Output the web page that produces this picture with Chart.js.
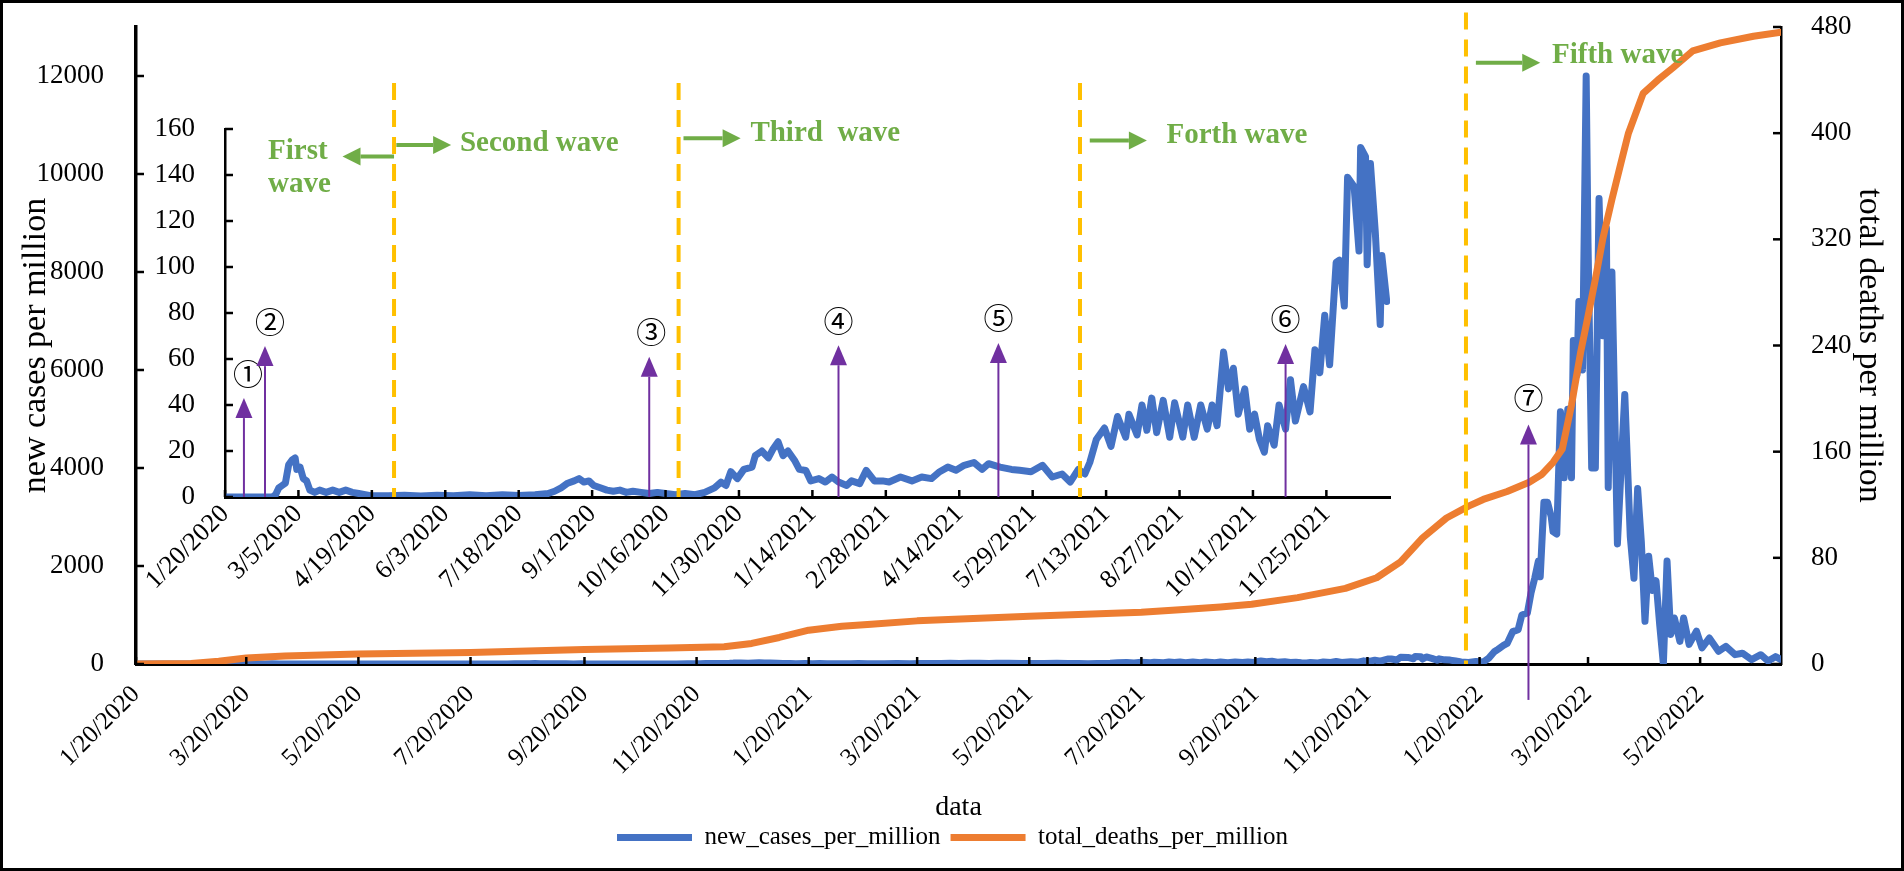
<!DOCTYPE html>
<html>
<head>
<meta charset="utf-8">
<title>new cases and total deaths per million</title>
<script src="https://cdn.jsdelivr.net/npm/chart.js@4.4.0/dist/chart.umd.min.js"></script>
<style>
  html, body { margin: 0; padding: 0; background: #fff; }
  #wrap { position: relative; width: 1904px; height: 871px; }
  #mainBox { position: absolute; left: 0; top: 0; width: 1904px; height: 871px; }
  #insetBox { position: absolute; left: 100px; top: 40px; width: 1320px; height: 560px; }
</style>
</head>
<body>
<div id="wrap">
  <div id="mainBox"><canvas id="mainChart"></canvas></div>
  <div id="insetBox"><canvas id="insetChart"></canvas></div>
</div>
<script>
// days are counted from 1/20/2020
const START = Date.UTC(2020, 0, 20);
function dayOf(label) {
    const [m, d, y] = label.split('/').map(Number);
    return Math.round((Date.UTC(y, m - 1, d) - START) / 86400000);
}

const mainTickLabels = [
    '1/20/2020', '3/20/2020', '5/20/2020', '7/20/2020', '9/20/2020', '11/20/2020',
    '1/20/2021', '3/20/2021', '5/20/2021', '7/20/2021', '9/20/2021', '11/20/2021',
    '1/20/2022', '3/20/2022', '5/20/2022',
];
const insetTickLabels = [
    '1/20/2020', '3/5/2020', '4/19/2020', '6/3/2020', '7/18/2020', '9/1/2020',
    '10/16/2020', '11/30/2020', '1/14/2021', '2/28/2021', '4/14/2021', '5/29/2021',
    '7/13/2021', '8/27/2021', '10/11/2021', '11/25/2021',
];
const casesTicks = [0, 2000, 4000, 6000, 8000, 10000, 12000];
const deathsTicks = [0, 80, 160, 240, 320, 400, 480];
const insetTicks = [0, 20, 40, 60, 80, 100, 120, 140, 160];

// new cases per million, 1/2020 - 12/2021 (shown in the inset and in the main chart)
const earlyDays = [
    0, 29, 31, 33, 35, 37, 39, 41, 43, 44, 46, 48, 50, 52, 55, 58, 62, 66, 70, 74, 78, 82, 86, 90,
    100, 110, 120, 130, 140, 150, 160, 170, 180, 190, 198, 202, 206, 210, 214, 217, 220, 223, 226,
    230, 234, 238, 242, 246, 250, 255, 260, 265, 270, 276, 282, 288, 294, 300, 304, 307, 310, 314,
    318, 323, 325, 329, 333, 336, 339, 342, 345, 349, 352, 356, 359, 364, 368, 372, 376, 381, 384,
    389, 393, 398, 403, 407, 414, 421, 427, 433, 438, 443, 448, 453, 459, 464, 468, 475, 482, 487,
    494, 501, 507, 513, 518, 523, 527, 530, 534, 539, 543, 547, 552, 554, 559, 562, 565, 568, 571,
    575, 579, 582, 587, 590, 594, 598, 602, 605, 608, 612, 615, 618, 621, 625, 628, 631, 634, 637,
    639, 643, 646, 650, 653, 656, 661, 665, 668, 671, 674, 677, 681, 683, 686, 688, 692, 695, 696,
    699, 700, 702, 705, 708, 709, 712,
];
const earlyCases = [
    0, 0, 1, 4, 5, 6, 14, 16, 17, 12, 13, 8, 7, 3, 2, 3, 2, 3, 2, 3, 2, 1.5, 1, 0.5,
    0.5, 0.8, 0.4, 0.8, 0.5, 1, 0.6, 1, 0.7, 1, 1.5, 2.5, 4, 6, 7, 8, 6.5, 7, 5,
    4, 3, 2.5, 3, 2, 2.5, 2, 1.5, 2, 1.5, 1, 1.5, 1, 2, 4, 6.5, 5, 11, 8,
    12, 13, 18, 20, 17, 21, 24, 18, 20, 16, 12, 11.5, 7, 8, 6.5, 8.7, 6.5, 5, 7,
    5.8, 11.6, 7, 7, 6.5, 8.7, 7, 8.7, 8, 11, 13, 11.6, 13.8, 15, 12, 14.5, 13, 12, 11.6,
    11, 13.8, 8.7, 10, 6.5, 12, 10, 15, 25, 30, 22, 35, 26, 36, 27, 40, 29, 43, 28,
    42, 26, 41, 26, 40, 26, 40, 29.5, 40, 31, 63, 47, 56, 36, 47, 29.5, 36, 25, 19.5,
    31, 22.5, 40, 29.5, 51, 33, 48, 37, 64, 54, 79, 57.5, 102, 103, 83, 139, 135, 107, 152,
    148, 101, 145, 115, 75, 105, 85,
];

// new cases per million, fifth wave (2022)
const fifthDays = [
    715, 718, 721, 725, 729, 733, 736, 739, 741, 744, 746, 749, 752, 754, 757, 759, 761, 763, 764,
    766, 768, 770, 771, 773, 775, 777, 779, 781, 782, 784, 785, 787, 789, 790, 792, 794, 796, 798,
    800, 801, 803, 806, 808, 810, 813, 815, 817, 819, 821, 823, 825, 827, 829, 831, 833, 835, 837,
    840, 842, 845, 849, 852, 856, 861, 865, 870, 874, 879, 884, 888, 892, 895,
];
const fifthCases = [
    80, 60, 40, 30, 50, 40, 120, 250, 300, 380, 420, 660, 700, 1000, 1040, 1450, 1750, 2100, 1780,
    3300, 3300, 3000, 2700, 2650, 5150, 3800, 5200, 3800, 6600, 5900, 7400, 6000, 12000, 8600, 4000, 4000, 9500, 6700,
    8900, 3600, 8000, 2450, 4000, 5500, 2600, 1750, 3580, 2500, 870, 2200, 1500, 1700, 800, 0, 2100, 600, 940,
    460, 940, 400, 670, 330, 530, 260, 360, 190, 220, 90, 190, 60, 150, 90,
];

// total deaths per million
const deathDays = [
    0, 30, 45, 60, 81, 121, 182, 244, 290, 320, 335, 350, 366, 384, 400, 425, 486, 547, 570, 590,
    607, 632, 658, 675, 688, 700, 713, 725, 733, 746, 758, 765, 771, 776, 781, 786, 790, 794, 798,
    803, 808, 812, 820, 828, 836, 847, 862, 880, 895,
];
const deathValues = [
    0, 0.3, 2, 4.5, 6, 7.5, 8.6, 11, 12, 13, 15.5, 20, 25.5, 28.5, 30, 32.5, 36, 39, 41, 43,
    45, 50, 57, 65, 77, 95, 110, 119, 124, 130, 137, 143, 152, 162, 195, 235, 262, 290, 320,
    350, 378, 400, 430, 440, 449, 462, 468, 473, 476,
];

const BLUE = '#4472C4';
const ORANGE = '#ED7D31';
const YELLOW = '#FFC000';
const GREEN = '#70AD47';
const PURPLE = '#7030A0';
const SERIF = '"Liberation Serif", "Times New Roman", serif';
const CIRCLED = '"Noto Sans CJK JP", "Noto Sans CJK SC", "DejaVu Sans", sans-serif';

Chart.defaults.font.family = SERIF;
Chart.defaults.font.size = 25;
Chart.defaults.color = '#000';

const toPoints = (xs, ys) => xs.map((x, i) => ({ x: x, y: ys[i] }));
const casePoints = toPoints(earlyDays.concat(fifthDays), earlyCases.concat(fifthCases));
const insetPoints = toPoints(earlyDays, earlyCases);
const deathPoints = toPoints(deathDays, deathValues);

function drawArrow(ctx, x1, y1, x2, y2, color, width, headLen, headW) {
    const a = Math.atan2(y2 - y1, x2 - x1);
    const bx = x2 - headLen * Math.cos(a);
    const by = y2 - headLen * Math.sin(a);
    ctx.strokeStyle = color;
    ctx.lineWidth = width;
    ctx.beginPath();
    ctx.moveTo(x1, y1);
    ctx.lineTo(bx, by);
    ctx.stroke();
    ctx.fillStyle = color;
    ctx.beginPath();
    ctx.moveTo(x2, y2);
    ctx.lineTo(bx + headW / 2 * Math.sin(a), by - headW / 2 * Math.cos(a));
    ctx.lineTo(bx - headW / 2 * Math.sin(a), by + headW / 2 * Math.cos(a));
    ctx.closePath();
    ctx.fill();
}

function dashedLine(ctx, x, y1, y2) {
    ctx.save();
    ctx.setLineDash([17, 10]);
    ctx.strokeStyle = YELLOW;
    ctx.lineWidth = 4;
    ctx.beginPath();
    ctx.moveTo(x, y1);
    ctx.lineTo(x, y2);
    ctx.stroke();
    ctx.restore();
}

function greenText(ctx, text, x, y) {
    ctx.font = 'bold 29px ' + SERIF;
    ctx.fillStyle = GREEN;
    ctx.textAlign = 'left';
    ctx.textBaseline = 'middle';
    ctx.fillText(text, x, y);
}

function circledLabel(ctx, text, x, y) {
    ctx.font = '30px ' + CIRCLED;
    ctx.fillStyle = '#000';
    ctx.textAlign = 'center';
    ctx.textBaseline = 'middle';
    ctx.fillText(text, x, y);
}

// short tick marks pointing into the plot, as in the original
const innerTicks = {
    id: 'innerTicks',
    afterDraw(chart) {
        const ctx = chart.ctx;
        ctx.save();
        ctx.strokeStyle = '#000';
        ctx.lineWidth = 2.5;
        Object.values(chart.scales).forEach(s => {
            s.ticks.forEach(t => {
                const p = s.getPixelForValue(t.value);
                ctx.beginPath();
                if (s.axis === 'x') {
                    ctx.moveTo(p, s.top);
                    ctx.lineTo(p, s.top - 7);
                } else if (s.position === 'left') {
                    ctx.moveTo(s.right, p);
                    ctx.lineTo(s.right + 8, p);
                } else {
                    ctx.moveTo(s.left, p);
                    ctx.lineTo(s.left - 8, p);
                }
                ctx.stroke();
            });
        });
        ctx.restore();
    }
};

// annotations of the inset (values in days / new cases)
const insetWaveDays = [103.6, 278, 524];
const insetArrows = [
    { day: 11.6, tip: 43, text: '\u2460', dx: 4 },
    { day: 24.5, tip: 65.6, text: '\u2461', dx: 5 },
    { day: 260, tip: 61, text: '\u2462', dx: 2 },
    { day: 376, tip: 66, text: '\u2463', dx: 0 },
    { day: 474, tip: 67, text: '\u2464', dx: 0 },
    { day: 650, tip: 66.5, text: '\u2465', dx: 0 },
];
const insetMarks = {
    id: 'insetMarks',
    afterDatasetsDraw(chart) {
        const { ctx, scales: { x, y } } = chart;
        const px = d => x.getPixelForValue(d);
        const py = v => y.getPixelForValue(v);
        ctx.save();
        insetWaveDays.forEach(d => dashedLine(ctx, px(d), py(180), py(0)));

        greenText(ctx, 'First', px(26.4), py(150.4));
        greenText(ctx, 'wave', px(26.4), py(136));
        drawArrow(ctx, px(103.6), py(148), px(72), py(148), GREEN, 4, 18, 18);
        drawArrow(ctx, px(105), py(153), px(138.6), py(153), GREEN, 4, 18, 18);
        greenText(ctx, 'Second wave', px(144), py(153.5));
        drawArrow(ctx, px(281), py(156), px(316), py(156), GREEN, 4, 18, 18);
        greenText(ctx, 'Third  wave', px(322), py(158));
        drawArrow(ctx, px(530), py(155), px(565), py(155), GREEN, 4, 18, 18);
        greenText(ctx, 'Forth wave', px(577), py(157));

        insetArrows.forEach(a => {
            drawArrow(ctx, px(a.day), py(0), px(a.day), py(a.tip), PURPLE, 2, 20, 17);
            circledLabel(ctx, a.text, px(a.day) + a.dx, py(a.tip) - 25);
        });
        ctx.restore();
    }
};

// annotations of the main chart (values in days / new cases)
const mainMarks = {
    id: 'mainMarks',
    afterDatasetsDraw(chart) {
        const { ctx, scales: { x, y } } = chart;
        const px = d => x.getPixelForValue(d);
        const py = v => y.getPixelForValue(v);
        ctx.save();
        dashedLine(ctx, px(723.6), py(13294), py(0));
        drawArrow(ctx, px(729), py(12272), px(764), py(12272), GREEN, 4, 18, 18);
        greenText(ctx, 'Fifth wave', px(770.4), py(12418));
        drawArrow(ctx, px(757.6), py(-733), px(757.6), py(4890), PURPLE, 2, 20, 17);
        circledLabel(ctx, '\u2466', px(757.6), py(4890) - 27);
        ctx.restore();
    },
    afterDraw(chart) {
        const ctx = chart.ctx;
        ctx.save();
        ctx.strokeStyle = '#000';
        ctx.lineWidth = 3;
        ctx.strokeRect(1.5, 1.5, chart.width - 3, chart.height - 3);
        ctx.restore();
    }
};

const lineStyle = {
    borderWidth: 7,
    pointRadius: 0,
    pointStyle: 'line',
    tension: 0,
    borderJoinStyle: 'round',
    borderCapStyle: 'round',
};

// a tiny line height keeps the tick padding from pushing the plot area down
const yTickFont = { size: 27, lineHeight: 0.05 };

new Chart(document.getElementById('mainChart'), {
    type: 'line',
    data: {
        datasets: [
            {
                ...lineStyle,
                label: 'new_cases_per_million',
                data: casePoints,
                borderColor: BLUE,
                backgroundColor: BLUE,
                yAxisID: 'y',
                order: 1,
            },
            {
                ...lineStyle,
                label: 'total_deaths_per_million',
                data: deathPoints,
                borderColor: ORANGE,
                backgroundColor: ORANGE,
                yAxisID: 'y1',
                order: 0,
            },
        ]
    },
    options: {
        responsive: true,
        maintainAspectRatio: false,
        animation: false,
        layout: { padding: { left: 12, right: 11, top: 27, bottom: 11 } },
        plugins: {
            tooltip: { enabled: false },
            legend: {
                position: 'bottom',
                labels: {
                    usePointStyle: true,
                    pointStyleWidth: 75,
                    padding: 10,
                    font: { size: 25 },
                    color: '#000',
                    sort: (a, b) => a.datasetIndex - b.datasetIndex,
                },
            },
        },
        scales: {
            x: {
                type: 'linear',
                min: 0,
                max: 895,
                grid: { display: false },
                border: { color: '#000', width: 3 },
                afterBuildTicks: s => { s.ticks = mainTickLabels.map(l => ({ value: dayOf(l) })); },
                afterFit: s => { s.height = 151; },
                ticks: {
                    autoSkip: false,
                    minRotation: 45,
                    maxRotation: 45,
                    padding: 8,
                    callback: (v, i) => mainTickLabels[i],
                },
                title: { display: true, text: 'data', font: { size: 28, lineHeight: 0.5 }, padding: 0 },
            },
            y: {
                position: 'left',
                min: 0,
                max: 13000,
                grid: { display: false },
                border: { color: '#000', width: 3.5 },
                afterBuildTicks: s => { s.ticks = casesTicks.map(v => ({ value: v })); },
                afterFit: s => { s.width = 124; },
                ticks: { padding: 24, font: yTickFont, callback: v => String(v) },
                title: { display: true, text: 'new cases per million', font: { size: 34 } },
            },
            y1: {
                position: 'right',
                min: 0,
                max: 480,
                grid: { display: false },
                border: { color: '#000', width: 2.5 },
                afterBuildTicks: s => { s.ticks = deathsTicks.map(v => ({ value: v })); },
                afterFit: s => { s.width = 112; },
                ticks: { padding: 22, font: yTickFont, callback: v => String(v) },
                title: { display: true, text: 'total deaths per million', font: { size: 34 } },
            },
        },
    },
    plugins: [innerTicks, mainMarks],
});

new Chart(document.getElementById('insetChart'), {
    type: 'line',
    data: {
        datasets: [
            {
                ...lineStyle,
                label: 'new_cases_per_million',
                data: insetPoints,
                borderColor: BLUE,
                backgroundColor: BLUE,
            },
        ]
    },
    options: {
        responsive: true,
        maintainAspectRatio: false,
        animation: false,
        layout: { padding: { left: 0, right: 30, top: 89, bottom: 0 } },
        plugins: {
            tooltip: { enabled: false },
            legend: { display: false },
        },
        scales: {
            x: {
                type: 'linear',
                min: 0,
                max: 714,
                grid: { display: false },
                border: { color: '#000', width: 3 },
                afterBuildTicks: s => { s.ticks = insetTickLabels.map(l => ({ value: dayOf(l) })); },
                afterFit: s => { s.height = 103; },
                ticks: {
                    autoSkip: false,
                    minRotation: 45,
                    maxRotation: 45,
                    padding: -6,
                    font: { size: 26 },
                    callback: (v, i) => insetTickLabels[i],
                },
            },
            y: {
                min: 0,
                max: 160,
                grid: { display: false },
                border: { color: '#000', width: 2.5 },
                afterBuildTicks: s => { s.ticks = insetTicks.map(v => ({ value: v })); },
                afterFit: s => { s.width = 125; },
                ticks: { padding: 22, font: { size: 27 }, callback: v => String(v) },
            },
        },
    },
    plugins: [innerTicks, insetMarks],
});
</script>
</body>
</html>
